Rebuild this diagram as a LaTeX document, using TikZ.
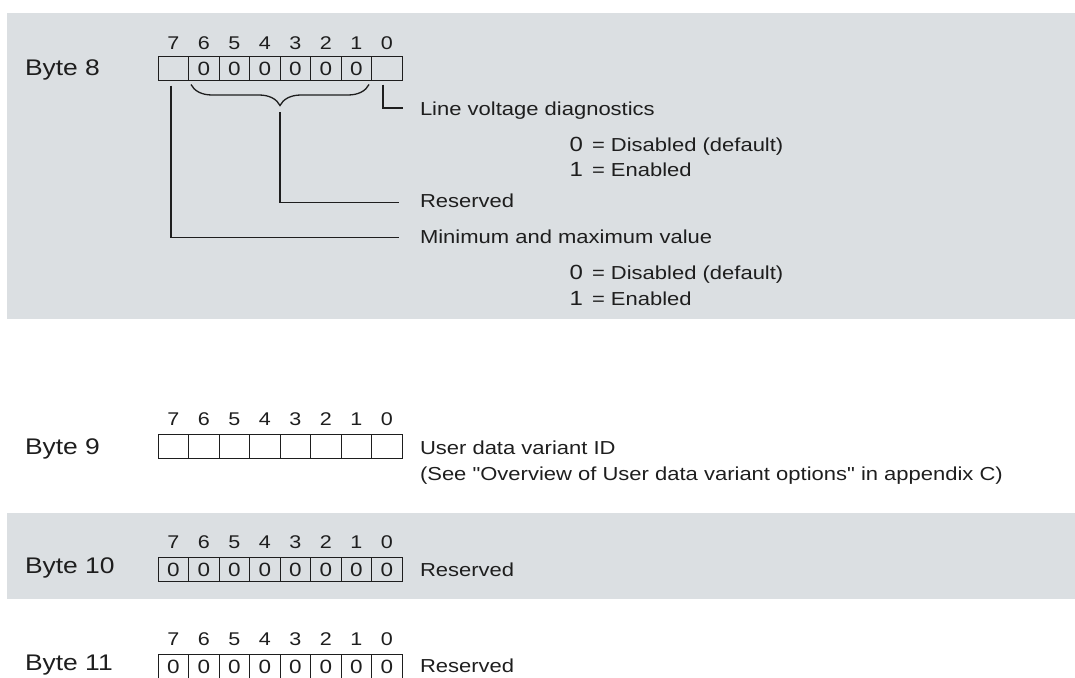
\documentclass[tikz,border=0pt]{standalone}
\usepackage{fontspec}
\setmainfont{Liberation Sans}[FakeStretch=1.17, Ligatures=TeXOff]
\usetikzlibrary{decorations.pathreplacing}
\definecolor{band}{RGB}{219,223,226}
\definecolor{ink}{RGB}{30,30,30}
\newcommand\bitrow[4]{%
  \foreach \b/\v in {#4} {%
    \pgfmathsetmacro\cx{158+30.5*(7-\b)+15.25}%
    \node[cell] (#1c\b) at (\cx,#2+12.25) {\v};
    \node[bitno] (#1n\b) at (\cx,#3) {\b};
  }}
\begin{document}
\begin{tikzpicture}[x=1pt,y=-1pt,
  every node/.style={inner sep=0pt, outer sep=0pt, text=ink},
  txt/.style={anchor=base west, font=\fontsize{18.8}{22}\selectfont},
  dig/.style={anchor=base west, font=\fontsize{20.5}{24}\selectfont},
  bytelbl/.style={anchor=base west, font=\fontsize{22.6}{26}\selectfont},
  bitno/.style={anchor=base, font=\fontsize{18.4}{22}\selectfont},
  cell/.style={draw=ink, line width=0.9pt, minimum width=30.5pt, minimum height=24.5pt, text height=13.5pt, text depth=0pt, font=\fontsize{19.2}{22}\selectfont},
  lead/.style={draw=ink, line width=1.8pt},
]
\useasboundingbox (0,0) rectangle (1075,677);
\fill[band] (7,13) rectangle (1075,319);
\fill[band] (7,513) rectangle (1075,599);

% Byte 8
\node[bytelbl] (l8) at (25,75) {Byte 8};
\bitrow{b8}{56}{50}{7/{},6/0,5/0,4/0,3/0,2/0,1/0,0/{}}
\draw[draw=ink, line width=1.3pt, decorate, decoration={brace, amplitude=21pt}]
  ([xshift=-2.5pt,yshift=-4pt]b8c1.south east) -- ([xshift=2.5pt,yshift=-4pt]b8c6.south west);
\coordinate (btip) at (280,105);
\coordinate (lvEnd) at (403,108);
\coordinate (resEnd) at (399,202.5);
\coordinate (mmEnd) at (399,237.5);
\draw[lead] ([xshift=-3.75pt,yshift=-4pt]b8c0.south) |- (lvEnd);
\draw[lead] ([yshift=-7pt]btip) |- (resEnd);
\draw[lead] ([xshift=-2pt,yshift=-5pt]b8c7.south) |- (mmEnd);

\node[txt] (lv) at (420,115) {Line voltage diagnostics};
\node[dig] (lv0) at (569.5,151.5) {0};
\node[txt] (lv0t) at (592,151.5) {= Disabled (default)};
\node[dig] (lv1) at (569.5,176) {1};
\node[txt] (lv1t) at (592,176) {= Enabled};
\node[txt] (res8) at (420,207) {Reserved};
\node[txt] (mm) at (420,243) {Minimum and maximum value};
\node[dig] (mm0) at (569.5,279) {0};
\node[txt] (mm0t) at (592,279) {= Disabled (default)};
\node[dig] (mm1) at (569.5,305) {1};
\node[txt] (mm1t) at (592,305) {= Enabled};

% Byte 9
\node[bytelbl] (l9) at (25,454) {Byte 9};
\bitrow{b9}{434}{425.7}{7/{},6/{},5/{},4/{},3/{},2/{},1/{},0/{}}
\node[txt] (ud) at (420,454) {User data variant ID};
\node[txt] (see) at (420,480) {(See "Overview of User data variant options" in appendix C)};

% Byte 10
\node[bytelbl] (l10) at (25,573) {Byte 10};
\bitrow{b10}{557}{548.3}{7/0,6/0,5/0,4/0,3/0,2/0,1/0,0/0}
\node[txt] (res10) at (420,576.5) {Reserved};

% Byte 11
\node[bytelbl] (l11) at (25,670) {Byte 11};
\bitrow{b11}{654}{645}{7/0,6/0,5/0,4/0,3/0,2/0,1/0,0/0}
\node[txt] (res11) at (420,672) {Reserved};
\end{tikzpicture}
\end{document}
